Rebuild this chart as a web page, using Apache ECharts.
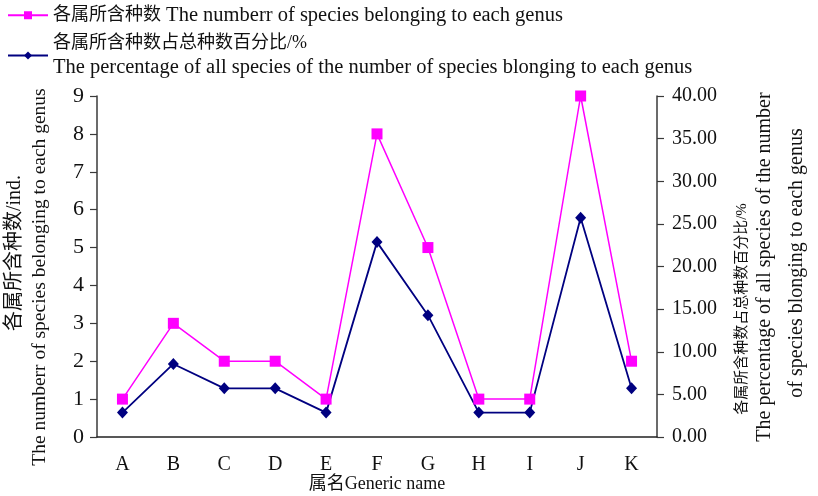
<!DOCTYPE html>
<html><head><meta charset="utf-8">
<script src="https://cdn.jsdelivr.net/npm/echarts@6/dist/echarts.min.js"></script>
<style>html,body{margin:0;padding:0;background:#fff}#c{width:818px;height:496px}</style>
</head><body><div id="c"></div>
<script>
const categories = ['A','B','C','D','E','F','G','H','I','J','K'];
const speciesCount = [1,3,2,2,1,8,5,1,1,9,2];
const percentage = [2.86,8.57,5.71,5.71,2.86,22.86,14.29,2.86,2.86,25.71,5.71];
const leftTicks = {min:0,max:9,interval:1};
const rightTicks = {min:0,max:40,interval:5};
const name1 = '各属所含种数 The numberr of species belonging to each genus';
const name2 = '各属所含种数占总种数百分比/%\nThe percentage of all species of the number of species blonging to each genus';

const FONT = '"Liberation Serif", "Noto Sans CJK SC", serif';
const chart = echarts.init(document.getElementById('c'));
const axisColor = '#3a3a3a';
const richStyles = {
  c:{fontFamily:FONT,fontSize:18,color:'#111',lineHeight:25},
  e:{fontFamily:FONT,fontSize:20.5,color:'#111',lineHeight:25}
};
function legendFmt(n){
  return n.split('\n').map(line=>{
    const m = line.match(/^([^A-Za-z]*)(.*)$/);
    let s = '';
    if (m[1].trim()) s += '{c|' + m[1].trim() + '}';
    if (m[2]) s += (s ? '{e| }' : '') + '{e|' + m[2] + '}';
    return s;
  }).join('\n');
}
chart.setOption({
  animation:false,
  textStyle:{fontFamily:FONT},
  grid:{left:97,right:161,top:96,bottom:59,containLabel:false,outerBoundsMode:'none'},
  legend:[
    {data:[name1],left:7,top:5,padding:0,orient:'vertical',itemWidth:40,itemHeight:10,
     formatter:legendFmt,textStyle:{fontFamily:FONT,fontSize:18,color:'#111',rich:richStyles}},
    {data:[name2],left:7,top:34,padding:0,orient:'vertical',itemWidth:40,itemHeight:10,
     formatter:legendFmt,textStyle:{fontFamily:FONT,fontSize:18,color:'#111',rich:richStyles}}
  ],
  xAxis:{type:'category',data:categories,boundaryGap:true,
    axisLine:{lineStyle:{color:'#222',width:1.5}},
    axisTick:{inside:true,length:7,lineStyle:{color:'#222',width:1.2}},
    axisLabel:{fontFamily:FONT,fontSize:20,color:'#111',margin:18},
    name:'属名Generic name',nameLocation:'middle',nameGap:38,nameMoveOverlap:false,
    nameTextStyle:{fontFamily:FONT,fontSize:18,color:'#111'}
  },
  yAxis:[
    {type:'value',min:leftTicks.min,max:leftTicks.max,interval:leftTicks.interval,
     axisLine:{show:true,lineStyle:{color:axisColor,width:1.5}},
     axisTick:{show:true,length:7,lineStyle:{color:axisColor,width:1.2}},
     splitLine:{show:false},
     axisLabel:{fontFamily:FONT,fontSize:22,color:'#111',margin:13}
    },
    {type:'value',position:'right',min:rightTicks.min,max:rightTicks.max,interval:rightTicks.interval,
     axisLine:{show:true,lineStyle:{color:axisColor,width:1.5}},
     axisTick:{show:true,length:7,lineStyle:{color:axisColor,width:1.2}},
     splitLine:{show:false},
     axisLabel:{fontFamily:FONT,fontSize:20,color:'#111',margin:15,formatter:v=>v.toFixed(2)}
    }
  ],
  series:[
    {name:name1,type:'line',yAxisIndex:0,data:speciesCount,symbol:'rect',symbolSize:11,
     lineStyle:{color:'#ff00ff',width:1.5},itemStyle:{color:'#ff00ff'}},
    {name:name2,type:'line',yAxisIndex:1,data:percentage,symbol:'diamond',symbolSize:[11,12],
     lineStyle:{color:'#000080',width:1.8},itemStyle:{color:'#000080'}}
  ],
  graphic:[
    {type:'text',x:15,y:253,rotation:Math.PI/2,style:{text:'各属所含种数/ind.',font:'20px '+FONT,fill:'#111',textAlign:'center',textVerticalAlign:'middle'}},
    {type:'text',x:40,y:277,rotation:Math.PI/2,style:{text:'The numberr of species belonging to each genus',font:'19.5px '+FONT,fill:'#111',textAlign:'center',textVerticalAlign:'middle'}},
    {type:'text',x:742,y:309,rotation:Math.PI/2,style:{text:'各属所含种数占总种数百分比/%',font:'15px '+FONT,fill:'#111',textAlign:'center',textVerticalAlign:'middle'}},
    {type:'text',x:765,y:267,rotation:Math.PI/2,style:{text:'The percentage of all species of the number',font:'20px '+FONT,fill:'#111',textAlign:'center',textVerticalAlign:'middle'}},
    {type:'text',x:797,y:263,rotation:Math.PI/2,style:{text:'of species blonging to each genus',font:'20px '+FONT,fill:'#111',textAlign:'center',textVerticalAlign:'middle'}}
  ]
});
</script></body></html>
